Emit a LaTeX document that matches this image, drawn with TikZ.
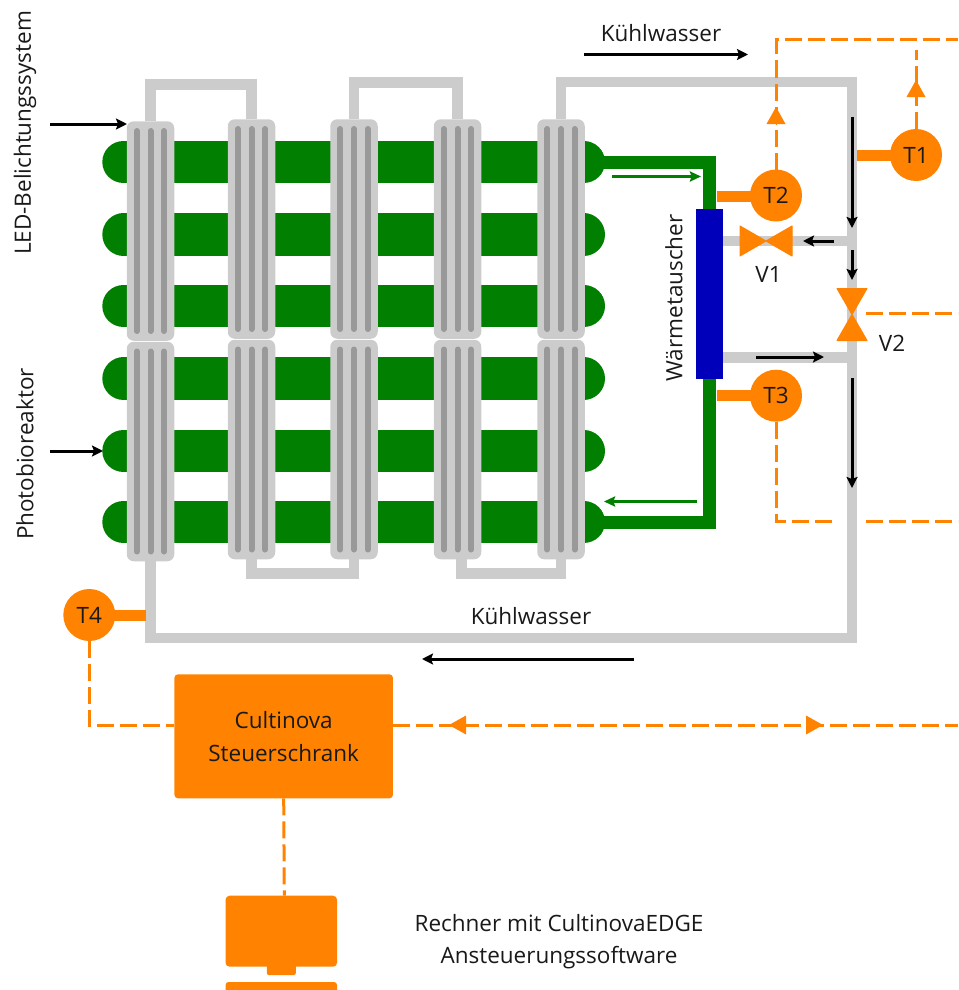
\documentclass[tikz,border=0pt]{standalone}
\usepackage{fontspec}
\setmainfont{Open Sans}
\usetikzlibrary{arrows.meta}
\definecolor{rohrgrau}{HTML}{CCCCCC}
\definecolor{stabgrau}{HTML}{999999}
\definecolor{algengruen}{HTML}{007F00}
\definecolor{regelorange}{HTML}{FF8200}
\definecolor{tauscherblau}{HTML}{0000BB}
\tikzset{
  pipe/.style={rohrgrau,line width=10.5pt},
  tube/.style={algengruen,line width=42.6pt,line cap=round},
  greenpipe/.style={algengruen,line width=13pt},
  modul/.style={draw=none,fill=rohrgrau,rounded corners=7pt,minimum width=47.5pt,minimum height=219.5pt,inner sep=0pt,outer sep=0pt},
  bar/.style={stabgrau,line width=6pt,line cap=round},
  signal/.style={regelorange,line width=3pt,dash pattern=on 17pt off 6pt},
  stub/.style={regelorange,line width=11pt},
  sensor/.style={circle,fill=regelorange,minimum size=52pt,inner sep=0pt,outer sep=0pt,font=\fontsize{22.5}{27}\selectfont,text=black!90},
  valve/.style={fill=regelorange,draw=regelorange,line width=1pt,line join=round},
  flow/.style={black,line width=3pt,-{Stealth[length=11pt,width=11pt,inset=2pt]}},
  greenflow/.style={algengruen,line width=2.5pt,-{Stealth[length=11pt,width=10pt,inset=1.5pt]}},
  midtip/.style={regelorange,line width=0pt,-{Triangle[length=17pt,width=19pt]}},
  txt/.style={inner sep=0pt,font=\fontsize{22.5}{27}\selectfont,text=black!90},
}
\begin{document}
\begin{tikzpicture}[x=1pt,y=-1pt]
  \useasboundingbox (0,0) rectangle (958,990);
  % Algenschlaeuche
  \foreach \posy in {162,234.7,306,378.5,451,522}
    \draw[tube] (123.6,\posy) -- (583.7,\posy);
  % Reaktormodule, oben und unten
  \foreach \name/\posx/\posy in {1o/150.5/231, 2o/251.5/229, 3o/354/229, 4o/457.5/229, 5o/561/229,
                                 1u/150.5/451.5, 2u/251.5/449.5, 3u/354/449.5, 4u/457.5/449.5, 5u/561/449.5} {
    \node[modul] (mod\name) at (\posx,\posy) {};
    \draw[bar] (\posx-13.6,\posy-100) -- (\posx-13.6,\posy+100);
    \draw[bar] (\posx,\posy-100) -- (\posx,\posy+100);
    \draw[bar] (\posx+13.6,\posy-100) -- (\posx+13.6,\posy+100);
  }
  % Kuehlwasser
  \node[fill=tauscherblau,minimum width=27.5pt,minimum height=170.5pt,inner sep=0pt,outer sep=0pt] (tauscher) at (709.7,294) {};
  \coordinate (eckeoben) at (852,82);
  \coordinate (eckeunten) at (852,638);
  \coordinate (v1) at (766,241);
  \coordinate (v2) at (852,314.5);
  \coordinate (ruecklauf) at (852,357.5);
  \draw[pipe] (mod1o.north) -- ++(0,-37) -| (mod2o.north);
  \draw[pipe] (mod3o.north) -- ++(0,-37) -| (mod4o.north);
  \draw[pipe] (mod2u.south) -- ++(0,14) -| (mod3u.south);
  \draw[pipe] ([xshift=4pt]mod4u.south) -- ++(0,14) -| (mod5u.south);
  \draw[pipe] (mod5o.north) |- (eckeoben) -- (eckeunten) -| (mod1u.south);
  \draw[pipe] (tauscher.east |- v1) -- (v1 -| eckeoben);
  \draw[pipe] (tauscher.east |- ruecklauf) -- (ruecklauf);
  \coordinate (ausgang) at (595,162);
  \coordinate (eingang) at (595,522);
  \draw[greenpipe] (ausgang) -| (tauscher.north);
  \draw[greenpipe] (tauscher.south) |- (eingang);
  % Sensoren
  \coordinate (t1rohr) at (857,155);
  \coordinate (t2rohr) at (717,196);
  \coordinate (t3rohr) at (717,395.7);
  \coordinate (t4rohr) at (145.7,615);
  \draw[stub] (916,155) -- (t1rohr);
  \draw[stub] (776,196) -- (t2rohr);
  \draw[stub] (776,395.7) -- (t3rohr);
  \draw[stub] (89.3,615) -- (t4rohr);
  \node[sensor] (t1) at (916,155) {T1};
  \node[sensor] (t2) at (776,195.5) {T2};
  \node[sensor] (t3) at (776,395.7) {T3};
  \node[sensor] (t4) at (89.3,615) {T4};
  \node[fill=regelorange,rounded corners=3.5pt,minimum width=218.5pt,minimum height=124pt,inner sep=0pt,outer sep=0pt,align=center,font=\fontsize{22.5}{33}\selectfont,text=black!90] (schrank) at (283.7,736.3) {Cultinova\\Steuerschrank};
  \node[fill=regelorange,rounded corners=4pt,minimum width=111.5pt,minimum height=71pt,inner sep=0pt,outer sep=0pt] (rechner) at (281.3,931.2) {};
  \node[fill=regelorange,rounded corners=2pt,minimum width=29pt,minimum height=12pt,inner sep=0pt,outer sep=0pt,anchor=north] (fuss) at (281.3,963) {};
  \node[fill=regelorange,rounded corners=3pt,minimum width=111.5pt,minimum height=20pt,inner sep=0pt,outer sep=0pt,anchor=north] (platte) at (281.3,982) {};
  % Regelleitungen
  \coordinate (rechtsoben) at (958,40);
  \coordinate (t1ende) at (916,50);
  \coordinate (t3links) at (834,521);
  \coordinate (t3rechts) at (866,521);
  \coordinate (t3ende) at (958,521);
  \coordinate (v2start) at (866,313.5);
  \coordinate (v2ende) at (958,313.5);
  \coordinate (bus) at (283.7,725);
  \coordinate (busende) at (958,725);
  \draw[signal] (t2) |- (rechtsoben);
  \draw[signal] (t1) -- (t1ende);
  \draw[signal] (t3) |- (t3links);
  \draw[signal] (t3rechts) -- (t3ende);
  \draw[signal] (v2start) -- (v2ende);
  \draw[signal] (t4) |- (schrank.west |- bus);
  \draw[signal] (schrank.east |- bus) -- (busende);
  \draw[signal] (schrank.south) -- ([xshift=3pt]rechner.north);
  \draw[midtip] (776,124) -- +(0,-17);
  \draw[midtip] (916,96) -- +(0,-16);
  \draw[midtip] (466,725) -- +(-17,0);
  \draw[midtip] (806,725) -- +(17,0);
  % Ventile
  \fill[valve] (v1) -- +(-26,-15) -- +(-26,15) -- cycle (v1) -- +(26,-15) -- +(26,15) -- cycle;
  \fill[valve] (v2) -- +(-15,-26) -- +(15,-26) -- cycle (v2) -- +(-15,26) -- +(15,26) -- cycle;
  % Stroemung
  \draw[flow] (50,124) -- (127,124);
  \draw[flow] (50,451) -- (103,451);
  \draw[flow] (584,54.5) -- (748,54.5);
  \draw[flow] (634,659) -- (422,659);
  \draw[flow] (852,117) -- (852,228);
  \draw[flow] (852,250) -- (852,280);
  \draw[flow] (852,378) -- (852,488);
  \draw[flow] (834,241) -- (803,241);
  \draw[flow] (756,357) -- (824,357);
  \draw[greenflow] (612,176.5) -- (701,176.5);
  \draw[greenflow] (697,501.5) -- (604,501.5);
  % Beschriftung
  \node[txt] (kwoben) at (661,33) {Kühlwasser};
  \node[txt] (kwunten) at (531,616) {Kühlwasser};
  \node[txt,rotate=90] (led) at (25,133) {LED-Belichtungssystem};
  \node[txt,rotate=90] (pbr) at (25,454) {Photobioreaktor};
  \node[txt,rotate=90] (wt) at (674,298) {Wärmetauscher};
  \node[txt] (v1txt) at (768.5,274) {V1};
  \node[txt] (v2txt) at (892,343) {V2};
  \node[txt] (soft1) at (559,923) {Rechner mit CultinovaEDGE};
  \node[txt] (soft2) at (559,958) {Ansteuerungssoftware};
\end{tikzpicture}
\end{document}
